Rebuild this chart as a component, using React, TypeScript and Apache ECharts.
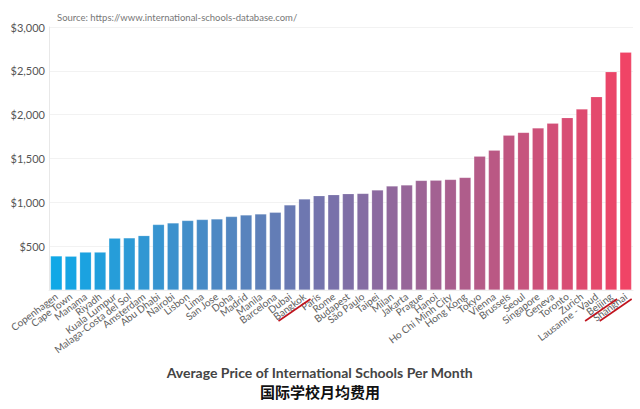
import React, { useEffect, useRef } from "react";
import * as echarts from "echarts";

const cities = [
  "Copenhagen", "Cape Town", "Manama", "Riyadh", "Kuala Lumpur", "Malaga-Costa del Sol",
  "Amsterdam", "Abu Dhabi", "Nairobi", "Lisbon", "Lima", "San Jose", "Doha", "Madrid",
  "Manila", "Barcelona", "Dubai", "Bangkok", "Paris", "Rome", "Budapest", "São Paulo",
  "Taipei", "Milan", "Jakarta", "Prague", "Hanoi", "Ho Chi Minh City", "Hong Kong",
  "Tokyo", "Vienna", "Brussels", "Seoul", "Singapore", "Geneva", "Toronto", "Zurich",
  "Lausanne - Vaud", "Beijing", "Shanghai",
];

const monthlyPrice = [
  388, 385, 432, 432, 591, 594, 620, 746, 765, 792, 803, 810, 837, 855, 867, 886,
  970, 1037, 1075, 1087, 1098, 1102, 1140, 1185, 1197, 1250, 1252, 1261, 1284,
  1527, 1595, 1765, 1798, 1849, 1902, 1966, 2064, 2205, 2489, 2712,
];

const yTicks = [0, 500, 1000, 1500, 2000, 2500, 3000];
const struckCities = ["Bangkok", "Beijing", "Shanghai"];

const titleEn = "Average Price of International Schools Per Month";
const titleZh = "国际学校月均费用";
const sourceText = "Source: https://www.international-schools-database.com/";

const colorStops: [number, number[]][] = [
  [0, [16, 168, 230]],
  [0.5, [124, 112, 168]],
  [1, [240, 68, 102]],
];

function gradientColor(t: number): string {
  for (let i = 0; i < colorStops.length - 1; i++) {
    const [t0, c0] = colorStops[i];
    const [t1, c1] = colorStops[i + 1];
    if (t <= t1) {
      const f = (t - t0) / (t1 - t0);
      const c = c0.map((v, k) => Math.round(v + (c1[k] - v) * f));
      return `rgb(${c[0]},${c[1]},${c[2]})`;
    }
  }
  const c = colorStops[colorStops.length - 1][1];
  return `rgb(${c[0]},${c[1]},${c[2]})`;
}

export default function App() {
  const ref = useRef<HTMLDivElement>(null);
  useEffect(() => {
    document.body.style.margin = "0";
    const chart = echarts.init(ref.current!, undefined, { renderer: "svg" });
    const n = cities.length;
    chart.setOption({
      animation: false,
      backgroundColor: "#ffffff",
      textStyle: { fontFamily: "Lato" },
      grid: { left: 49, right: 7, top: 27, bottom: 119, containLabel: false },
      xAxis: {
        type: "category",
        data: cities,
        axisTick: { show: false },
        axisLine: { show: true, lineStyle: { color: "#eeeeee" } },
        axisLabel: {
          rotate: 37,
          interval: 0,
          fontSize: 10,
          color: "#5e5e5e",
          margin: 5,
          fontFamily: "Lato",
        },
      },
      yAxis: {
        type: "value",
        min: yTicks[0],
        max: yTicks[yTicks.length - 1],
        interval: 500,
        axisLine: { show: true, lineStyle: { color: "#e8e8e8" } },
        axisTick: { show: false },
        splitLine: { lineStyle: { color: "#f2f2f2" } },
        axisLabel: {
          fontSize: 11,
          color: "#555555",
          margin: 4,
          fontFamily: "Lato",
          formatter: (v: number) => (v === 0 ? "" : "$" + v.toLocaleString("en-US")),
        },
      },
      series: [
        {
          type: "bar",
          data: monthlyPrice.map((v, i) => ({
            value: v,
            itemStyle: { color: gradientColor(i / (n - 1)) },
          })),
          barCategoryGap: "20%",
          itemStyle: { borderColor: "rgba(255,255,255,0.35)", borderWidth: 0.5 },
        },
      ],
      graphic: [
        {
          id: "source",
          type: "text",
          left: 57,
          top: 12,
          style: { text: sourceText, fontSize: 9.5, fill: "#777777", fontFamily: "Lato" },
        },
        {
          id: "titleEn",
          type: "text",
          left: "center",
          top: 365,
          style: {
            text: titleEn,
            fontSize: 14,
            fontWeight: "bold",
            fill: "#444444",
            fontFamily: "Lato",
          },
        },
        {
          id: "titleZh",
          type: "text",
          left: "center",
          top: 384,
          style: {
            text: titleZh,
            fontSize: 15,
            fontWeight: "bold",
            fill: "#111111",
            fontFamily: "Noto Sans CJK SC",
          },
        },
      ],
    });

    const baseY = chart.convertToPixel({ yAxisIndex: 0 }, 0) as number;
    const strikes = struckCities.map((c) => {
      const x = chart.convertToPixel({ xAxisIndex: 0 }, c) as number;
      return {
        id: "strike-" + c,
        type: "line",
        shape: { x1: x - 26, y1: baseY + 31, x2: x + 6, y2: baseY + 9 },
        style: { stroke: "#c0141e", lineWidth: 1.6 },
        z: 10,
      };
    });
    chart.setOption({ graphic: strikes } as any);
    return () => chart.dispose();
  }, []);
  return <div ref={ref} style={{ width: 640, height: 409 }} />;
}
